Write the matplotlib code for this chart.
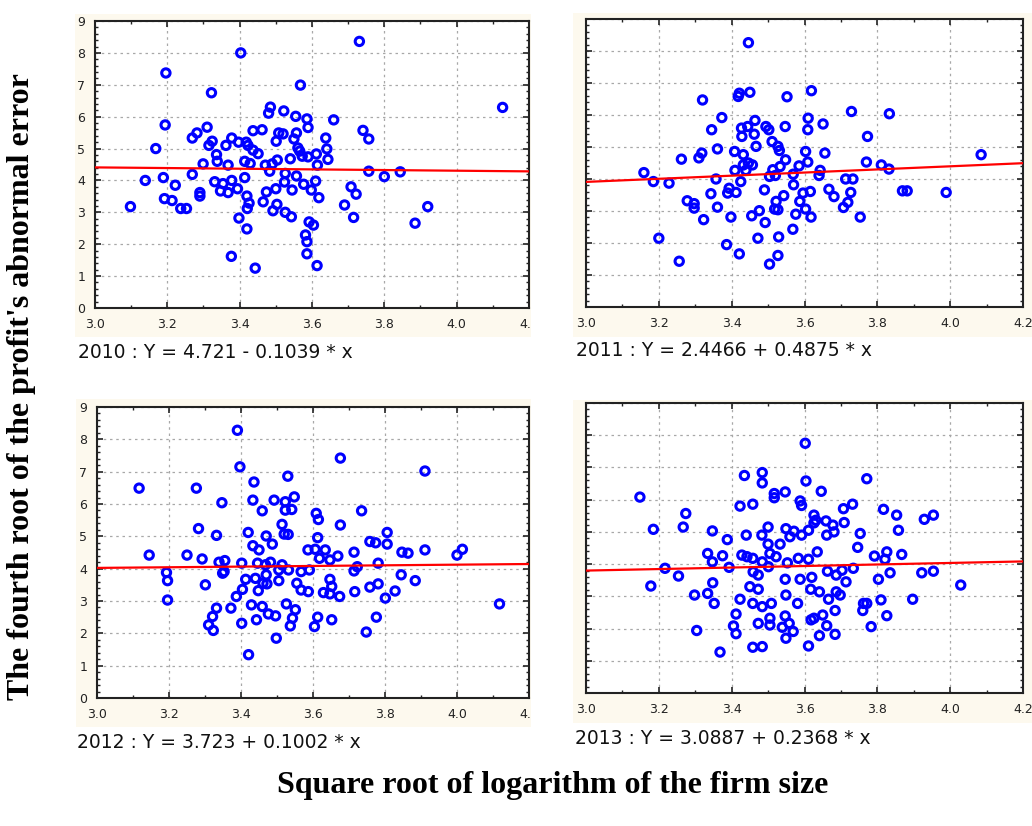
import matplotlib
matplotlib.use('Agg')
import matplotlib.pyplot as plt
from matplotlib.patches import Rectangle
from matplotlib.ticker import MultipleLocator
import numpy as np

# ---------------- data ----------------
years = [2010, 2011, 2012, 2013]
intercepts = [4.721, 2.4466, 3.723, 3.0887]
slopes = [-0.1039, 0.4875, 0.1002, 0.2368]
eq_labels = ["2010 : Y = 4.721 - 0.1039 * x",
             "2011 : Y = 2.4466 + 0.4875 * x",
             "2012 : Y = 3.723 + 0.1002 * x",
             "2013 : Y = 3.0887 + 0.2368 * x"]
x_ticks = [3.0, 3.2, 3.4, 3.6, 3.8, 4.0, 4.2]
x_tick_labels = ["3.0", "3.2", "3.4", "3.6", "3.8", "4.0", "4.2"]
y_ticks = [0, 1, 2, 3, 4, 5, 6, 7, 8, 9]
y_label = "The fourth root of the profit's abnormal error"
x_label = "Square root of logarithm of the firm size"

x_2010 = [3.098, 3.139, 3.168, 3.196, 3.194, 3.189, 3.192, 3.213, 3.222, 3.237,
          3.253, 3.269, 3.269, 3.282, 3.29, 3.29, 3.299, 3.31, 3.322, 3.324,
          3.315, 3.336, 3.338, 3.331, 3.347, 3.354, 3.362, 3.368, 3.368, 3.378,
          3.378, 3.377, 3.394, 3.397, 3.403, 3.398, 3.414, 3.418, 3.423, 3.429,
          3.414, 3.42, 3.426, 3.421, 3.42, 3.437, 3.437, 3.451, 3.443, 3.462,
          3.465, 3.471, 3.474, 3.48, 3.485, 3.483, 3.49, 3.5, 3.492, 3.501,
          3.504, 3.503, 3.508, 3.52, 3.522, 3.526, 3.524, 3.526, 3.543, 3.54,
          3.545, 3.55, 3.557, 3.555, 3.557, 3.561, 3.566, 3.568, 3.573, 3.577,
          3.586, 3.589, 3.589, 3.582, 3.586, 3.586, 3.592, 3.604, 3.598, 3.61,
          3.612, 3.615, 3.619, 3.614, 3.638, 3.641, 3.644, 3.66, 3.69, 3.708,
          3.715, 3.722, 3.731, 3.741, 3.757, 3.757, 3.8, 3.844, 3.885, 3.92, 4.127]
y_2010 = [3.18, 4.0, 5.0, 7.37, 5.74, 4.09, 3.43, 3.37, 3.85, 3.12,
          3.12, 4.19, 5.33, 5.49, 3.62, 3.51, 4.52, 5.67, 6.75, 5.23,
          5.10, 4.81, 4.60, 3.96, 3.67, 3.90, 5.10, 3.62, 4.48, 5.33,
          4.0, 1.62, 3.74, 5.20, 8.0, 2.82, 4.60, 5.20, 5.10, 4.53,
          4.09, 3.51, 3.29, 3.12, 2.48, 5.56, 4.95, 4.84, 1.25, 5.59,
          3.33, 4.48, 3.64, 6.11, 6.30, 4.29, 4.52, 3.74, 3.05, 5.23,
          4.64, 3.25, 5.49, 5.46, 6.18, 4.22, 3.95, 3.0, 2.86, 4.68,
          3.70, 5.30, 5.49, 6.01, 4.14, 5.02, 4.92, 6.99, 4.76, 3.88,
          5.93, 5.66, 4.74, 2.29, 2.08, 1.70, 2.70, 2.60, 3.70, 3.98,
          4.83, 4.48, 3.46, 1.33, 5.33, 4.99, 4.66, 5.90, 3.23, 3.80,
          2.84, 3.57, 8.36, 5.57, 5.30, 4.29, 4.12, 4.27, 2.66, 3.18, 6.29]

x_2011 = [3.446, 3.32, 3.418, 3.421, 3.45, 3.552, 3.619, 3.373, 3.345, 3.427,
          3.444, 3.464, 3.494, 3.502, 3.547, 3.61, 3.609, 3.651, 3.729, 3.833,
          3.428, 3.462, 3.773, 3.361, 3.318, 3.31, 3.262, 3.408, 3.432, 3.467,
          3.511, 3.527, 3.531, 3.548, 3.603, 3.656, 3.585, 3.609, 3.643, 3.64,
          3.432, 3.446, 3.457, 3.409, 3.439, 3.513, 3.533, 3.504, 3.52, 3.569,
          3.77, 3.811, 3.832, 4.085, 3.159, 3.185, 3.228, 3.357, 3.425, 3.393,
          3.389, 3.412, 3.57, 3.713, 3.733, 3.667, 3.681, 3.727, 3.343, 3.278,
          3.297, 3.297, 3.361, 3.49, 3.543, 3.522, 3.518, 3.527, 3.587, 3.596,
          3.616, 3.603, 3.398, 3.455, 3.476, 3.576, 3.618, 3.707, 3.719, 3.753,
          3.869, 3.882, 3.989, 3.323, 3.492, 3.568, 3.2, 3.472, 3.529, 3.386,
          3.421, 3.527, 3.256, 3.504]
y_2011 = [8.26, 6.47, 6.58, 6.68, 6.71, 6.57, 6.76, 5.92, 5.54, 5.59,
          5.64, 5.83, 5.64, 5.54, 5.64, 5.90, 5.54, 5.72, 6.11, 6.04,
          5.33, 5.40, 5.33, 4.94, 4.81, 4.66, 4.62, 4.86, 4.76, 5.02,
          5.17, 5.02, 4.89, 4.60, 4.86, 4.81, 4.41, 4.53, 4.27, 4.11,
          4.44, 4.50, 4.44, 4.27, 4.27, 4.29, 4.39, 4.08, 4.11, 4.15,
          4.53, 4.44, 4.31, 4.76, 4.20, 3.92, 3.87, 4.00, 3.92, 3.71,
          3.56, 3.58, 3.82, 4.00, 4.00, 3.68, 3.45, 3.58, 3.54, 3.32,
          3.23, 3.09, 3.12, 3.66, 3.48, 3.30, 3.06, 3.04, 3.30, 3.56,
          3.61, 3.06, 2.81, 2.85, 3.01, 2.90, 2.81, 3.11, 3.27, 2.81,
          3.63, 3.63, 3.58, 2.73, 2.64, 2.43, 2.15, 2.15, 2.19, 1.95,
          1.66, 1.61, 1.43, 1.34]

x_2012 = [3.39, 3.397, 3.676, 3.911, 3.117, 3.276, 3.53, 3.436, 3.347, 3.433,
          3.492, 3.523, 3.548, 3.459, 3.523, 3.541, 3.735, 3.609, 3.615, 3.676,
          3.282, 3.332, 3.42, 3.47, 3.514, 3.52, 3.531, 3.613, 3.487, 3.433,
          3.45, 3.806, 3.806, 3.758, 3.774, 3.586, 3.606, 3.634, 3.669, 3.618,
          3.647, 3.714, 3.847, 3.864, 3.911, 4.0, 4.015, 3.145, 3.25, 3.292,
          3.339, 3.355, 3.349, 3.353, 3.193, 3.196, 3.196, 3.301, 3.402, 3.446,
          3.468, 3.482, 3.505, 3.532, 3.514, 3.567, 3.59, 3.413, 3.44, 3.47,
          3.461, 3.472, 3.505, 3.404, 3.387, 3.448, 3.555, 3.567, 3.587, 3.629,
          3.647, 3.652, 3.647, 3.674, 3.716, 3.714, 3.723, 3.781, 3.845, 3.884,
          3.781, 3.758, 3.828, 3.801, 3.372, 3.332, 3.321, 3.31, 3.323, 3.429,
          3.459, 3.476, 3.496, 3.526, 3.551, 3.543, 3.537, 3.402, 3.443, 3.498,
          3.421, 3.613, 3.604, 3.652, 3.776, 3.748, 4.118]
y_2012 = [8.28, 7.15, 7.42, 7.02, 6.49, 6.49, 6.86, 6.68, 6.04, 6.12,
          6.12, 6.07, 6.22, 5.79, 5.81, 5.83, 5.79, 5.71, 5.52, 5.35,
          5.24, 5.03, 5.12, 5.01, 5.37, 5.07, 5.06, 4.96, 4.76, 4.71,
          4.58, 5.12, 4.76, 4.84, 4.80, 4.58, 4.60, 4.58, 4.39, 4.32,
          4.27, 4.51, 4.51, 4.48, 4.58, 4.42, 4.60, 4.42, 4.42, 4.30,
          4.20, 4.25, 3.86, 3.91, 3.88, 3.63, 3.03, 3.50, 4.17, 4.17,
          4.12, 4.20, 3.96, 3.96, 4.12, 3.91, 3.96, 3.67, 3.70, 3.81,
          3.55, 3.53, 3.63, 3.36, 3.14, 3.32, 3.55, 3.34, 3.29, 3.26,
          3.67, 3.45, 3.22, 3.14, 3.29, 3.93, 4.06, 4.17, 3.81, 3.63,
          3.53, 3.43, 3.31, 3.09, 2.78, 2.78, 2.52, 2.26, 2.09, 2.88,
          2.83, 2.60, 2.54, 2.91, 2.73, 2.47, 2.23, 2.31, 2.42, 1.85,
          1.34, 2.50, 2.21, 2.42, 2.50, 2.04, 2.91]

x_2013 = [3.602, 3.435, 3.484, 3.484, 3.604, 3.771, 3.646, 3.517, 3.517, 3.547,
          3.148, 3.588, 3.592, 3.423, 3.458, 3.274, 3.707, 3.732, 3.817, 3.853,
          3.929, 3.954, 3.185, 3.267, 3.347, 3.388, 3.44, 3.483, 3.5, 3.533,
          3.549, 3.56, 3.571, 3.592, 3.611, 3.631, 3.626, 3.626, 3.659, 3.661,
          3.678, 3.681, 3.709, 3.753, 3.858, 3.746, 3.5, 3.505, 3.375, 3.334,
          3.347, 3.393, 3.428, 3.442, 3.458, 3.484, 3.501, 3.522, 3.553, 3.583,
          3.611, 3.635, 3.792, 3.821, 3.826, 3.867, 3.217, 3.254, 3.459, 3.473,
          3.547, 3.588, 3.62, 3.663, 3.687, 3.703, 3.714, 3.734, 3.803, 3.835,
          3.922, 3.954, 4.029, 3.178, 3.298, 3.334, 3.348, 3.352, 3.423, 3.45,
          3.473, 3.458, 3.484, 3.509, 3.549, 3.581, 3.617, 3.641, 3.666, 3.687,
          3.698, 3.684, 3.762, 3.76, 3.771, 3.81, 3.826, 3.897, 3.783, 3.412,
          3.405, 3.412, 3.304, 3.473, 3.505, 3.505, 3.539, 3.547, 3.558, 3.569,
          3.549, 3.618, 3.626, 3.65, 3.661, 3.641, 3.684, 3.611, 3.458, 3.484,
          3.368]
y_2013 = [7.75, 6.75, 6.84, 6.52, 6.58, 6.65, 6.26, 6.19, 6.06, 6.24,
          6.08, 5.96, 5.82, 5.80, 5.86, 5.57, 5.72, 5.86, 5.70, 5.52,
          5.39, 5.52, 5.08, 5.15, 5.03, 4.76, 4.90, 4.90, 5.15, 4.62,
          5.10, 4.85, 5.02, 4.90, 5.05, 5.36, 5.52, 5.28, 5.34, 4.90,
          5.21, 5.00, 5.29, 4.95, 5.05, 4.52, 4.62, 4.33, 4.26, 4.33,
          4.07, 3.90, 4.28, 4.23, 4.18, 4.07, 3.92, 4.23, 4.04, 4.18,
          4.15, 4.38, 4.25, 4.15, 4.38, 4.30, 3.87, 3.63, 3.76, 3.66,
          3.53, 3.53, 3.59, 3.78, 3.66, 3.81, 3.45, 3.87, 3.53, 3.73,
          3.73, 3.78, 3.35, 3.32, 3.04, 3.09, 3.42, 2.78, 2.91, 3.30,
          3.22, 2.78, 2.68, 2.78, 3.04, 2.78, 3.22, 3.14, 2.91, 3.14,
          3.04, 2.56, 2.78, 2.56, 2.78, 2.89, 2.40, 2.91, 2.06, 2.45,
          2.08, 1.84, 1.94, 2.16, 2.11, 2.32, 2.04, 2.39, 2.16, 1.91,
          1.70, 2.27, 2.32, 2.42, 2.09, 1.78, 1.82, 1.46, 1.42, 1.44,
          1.27]

xs = [x_2010, x_2011, x_2012, x_2013]
ys = [y_2010, y_2011, y_2012, y_2013]

# ---------------- layout (pixel boxes) ----------------
W, H = 1032, 826
fig = plt.figure(figsize=(W / 100, H / 100), dpi=100)
fig.patch.set_facecolor('white')


def box(x0, y0, x1, y1):
    return [x0 / W, 1 - y1 / H, (x1 - x0) / W, (y1 - y0) / H]


axes_boxes = [(95, 21, 529, 308), (586, 19, 1023, 307),
              (97, 407, 529, 698), (586, 403, 1023, 693)]
panel_boxes = [(75, 14, 560, 337), (573, 13, 1032, 337),
               (76, 399, 560, 727), (573, 400, 1032, 723)]
eq_pos = [(78, 352), (576, 350), (77, 742), (575, 738)]

beige = '#fdf9ee'
for (x0, y0, x1, y1) in panel_boxes:
    fig.add_artist(Rectangle((x0 / W, 1 - y1 / H), (x1 - x0) / W, (y1 - y0) / H,
                             transform=fig.transFigure, facecolor=beige,
                             edgecolor='none', zorder=-5))

for i in range(4):
    ax = fig.add_axes(box(*axes_boxes[i]))
    ax.set_facecolor('white')
    ax.set_xlim(3.0, 4.2)
    ax.set_ylim(0, 9)
    ax.set_xticks(x_ticks)
    ax.set_yticks(y_ticks)
    ax.xaxis.set_minor_locator(MultipleLocator(0.1))
    ax.yaxis.set_minor_locator(MultipleLocator(0.2))
    ax.grid(True, which='major', color='#a8a8a8', linestyle=(0, (2, 3)),
            linewidth=0.9)
    ax.set_axisbelow(True)
    ax.tick_params(which='both', direction='in', top=True, right=True,
                   colors='#222222', labelsize=9)
    ax.tick_params(which='major', length=4, width=1.2, pad=7)
    ax.tick_params(which='minor', length=2.5, width=1)
    ax.set_xticklabels(x_tick_labels)
    if i % 2 == 1:
        ax.set_yticklabels([])
    for s in ax.spines.values():
        s.set_linewidth(1.5)
        s.set_color('#222222')

    ax.scatter(xs[i], ys[i], s=36, facecolors='none', edgecolors='#0000ff',
               linewidths=2.2, zorder=3)
    xl = np.array([3.0, 4.2])
    ax.plot(xl, intercepts[i] + slopes[i] * xl, color='#ff0000',
            linewidth=1.6, zorder=4)

    fig.text(eq_pos[i][0] / W, 1 - eq_pos[i][1] / H, eq_labels[i],
             fontsize=13.5, color='#111111', ha='left', va='center',
             family='DejaVu Sans')

# white gap between left and right panels (cropped look)
fig.add_artist(Rectangle((531 / W, 1 - 760 / H), (572 - 531) / W, 750 / H,
                         transform=fig.transFigure, facecolor='white',
                         edgecolor='none', zorder=20))

fig.text(22 / W, 1 - 387 / H, y_label, rotation=90, ha='center', va='center',
         fontsize=23, fontweight='bold', family='Liberation Serif')
fig.text(553 / W, 1 - 786 / H, x_label, ha='center', va='center',
         fontsize=23, fontweight='bold', family='Liberation Serif')

fig.savefig('out.png', dpi=100)
